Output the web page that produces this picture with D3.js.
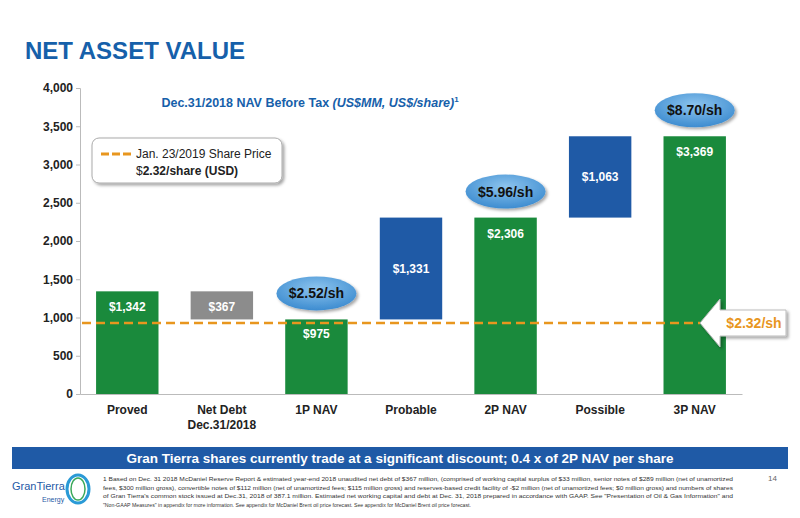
<!DOCTYPE html>
<html><head><meta charset="utf-8">
<script src="https://cdn.jsdelivr.net/npm/d3@7"></script>
<style>body{margin:0;background:#fff;font-family:Arial,"Liberation Sans",sans-serif}</style>
</head><body><div id="container"></div>
<script>
const categories = ['Proved', 'Net Debt|Dec.31/2018', '1P NAV', 'Probable', '2P NAV', 'Possible', '3P NAV'];
const barStart   = [0, 975, 0, 975, 0, 2306, 0];
const barEnd     = [1342, 1342, 975, 2306, 2306, 3369, 3369];
const barLabels  = ['$1,342', '$367', '$975', '$1,331', '$2,306', '$1,063', '$3,369'];
const barKind    = ['total', 'debt', 'total', 'add', 'total', 'add', 'total'];
const perShare   = [{cat: '1P NAV', text: '$2.52/sh'}, {cat: '2P NAV', text: '$5.96/sh'}, {cat: '3P NAV', text: '$8.70/sh'}];
const shareLine  = 928;
const yTicks     = [0, 500, 1000, 1500, 2000, 2500, 3000, 3500, 4000];

const color = { total: '#1a8a3c', add: '#1f5aa6', debt: '#8c8c8c', title: '#1660aa', orange: '#e8961e' };

const svg = d3.select('#container').append('svg').attr('width', 800).attr('height', 518);
const defs = svg.append('defs');
const g1 = defs.append('radialGradient').attr('id', 'bub').attr('cx', '50%').attr('cy', '35%').attr('r', '65%');
g1.append('stop').attr('offset', '0%').attr('stop-color', '#8cc4ee');
g1.append('stop').attr('offset', '100%').attr('stop-color', '#3d8cd0');
const sh = defs.append('filter').attr('id', 'sh').attr('x', '-20%').attr('y', '-20%').attr('width', '150%').attr('height', '160%');
sh.append('feDropShadow').attr('dx', 2).attr('dy', 2).attr('stdDeviation', 1.5).attr('flood-color', '#000').attr('flood-opacity', 0.35);

svg.append('text').attr('x', 25).attr('y', 59).attr('fill', color.title)
    .attr('font-size', 24).attr('font-weight', 'bold').text('NET ASSET VALUE');

const x = d3.scaleBand().domain(categories).range([80, 742]).paddingInner(0.34).paddingOuter(0.17);
const y = d3.scaleLinear().domain([0, 4000]).range([394, 88]);

// axes
const yAxis = svg.append('g').attr('transform', 'translate(80,0)')
    .call(d3.axisLeft(y).tickValues(yTicks).tickFormat(d3.format(',')).tickSize(4));
yAxis.selectAll('text').attr('font-size', 12).attr('font-weight', 'bold').attr('fill', '#222');
yAxis.selectAll('line,path').attr('stroke', '#bbb');

const xAxis = svg.append('g').attr('transform', 'translate(0,394)')
    .call(d3.axisBottom(x).tickSize(0).tickFormat(''));
xAxis.select('path').attr('stroke', '#bbb');
categories.forEach(c => {
    const t = svg.append('text').attr('x', x(c) + x.bandwidth() / 2).attr('y', 414)
        .attr('text-anchor', 'middle').attr('font-size', 12).attr('font-weight', 'bold').attr('fill', '#222');
    c.split('|').forEach((s, i) => t.append('tspan').attr('x', x(c) + x.bandwidth() / 2).attr('dy', i ? 15 : 0).text(s));
});

// bars
categories.forEach((c, i) => {
    const top = y(barEnd[i]), bot = y(barStart[i]);
    svg.append('rect').attr('x', x(c)).attr('width', x.bandwidth())
        .attr('y', top).attr('height', bot - top)
        .attr('fill', color[barKind[i]]);
    const ly = barKind[i] === 'add' ? (top + bot) / 2 + 4 : top + (i === 2 ? 19 : 20);
    svg.append('text').attr('x', x(c) + x.bandwidth() / 2).attr('y', ly)
        .attr('text-anchor', 'middle').attr('font-size', 12).attr('font-weight', 'bold').attr('fill', '#fff').text(barLabels[i]);
});

// share price line
svg.append('line').attr('x1', 82).attr('x2', 700).attr('y1', y(shareLine)).attr('y2', y(shareLine))
    .attr('stroke', color.orange).attr('stroke-width', 2.5).attr('stroke-dasharray', '9,5');
const cy = y(shareLine);
svg.append('path').attr('filter', 'url(#sh)')
    .attr('d', `M700,${cy} L720,${cy - 24} L720,${cy - 13} L786,${cy - 13} L786,${cy + 13} L720,${cy + 13} L720,${cy + 24} Z`)
    .attr('fill', '#fff').attr('stroke', '#bbb');
svg.append('text').attr('x', 754).attr('y', cy + 5).attr('text-anchor', 'middle').attr('font-size', 14)
    .attr('font-weight', 'bold').attr('fill', color.orange).text('$2.32/sh');

// per share bubbles
perShare.forEach(p => {
    const i = categories.indexOf(p.cat);
    const cx = x(p.cat) + x.bandwidth() / 2, by = y(barEnd[i]) - 26;
    svg.append('ellipse').attr('cx', cx).attr('cy', by).attr('rx', 40).attr('ry', 17)
        .attr('fill', 'url(#bub)').attr('filter', 'url(#sh)');
    svg.append('text').attr('x', cx).attr('y', by + 5).attr('text-anchor', 'middle').attr('font-size', 14)
        .attr('font-weight', 'bold').attr('fill', '#111').text(p.text);
});

// subtitle
const sub = svg.append('text').attr('x', 310).attr('y', 107).attr('text-anchor', 'middle')
    .attr('font-size', 12.5).attr('font-weight', 'bold').attr('fill', color.title);
sub.append('tspan').text('Dec.31/2018 NAV Before Tax ');
sub.append('tspan').attr('font-style', 'italic').text('(US$MM, US$/share)');
sub.append('tspan').attr('font-size', 8).attr('dy', -5).text('1');

// legend
svg.append('rect').attr('x', 92).attr('y', 138).attr('width', 190).attr('height', 45).attr('rx', 7)
    .attr('fill', '#fff').attr('stroke', '#aaa').attr('filter', 'url(#sh)');
svg.append('line').attr('x1', 101).attr('x2', 132).attr('y1', 154).attr('y2', 154)
    .attr('stroke', color.orange).attr('stroke-width', 3).attr('stroke-dasharray', '8,3');
svg.append('text').attr('x', 136).attr('y', 158).attr('font-size', 12).attr('fill', '#222').text('Jan. 23/2019 Share Price');
const lt = svg.append('text').attr('x', 136).attr('y', 175).attr('font-size', 12).attr('fill', '#222');
lt.append('tspan').text('$');
lt.append('tspan').attr('font-weight', 'bold').text('2.32/share (USD)');

// bottom band
svg.append('rect').attr('x', 12).attr('y', 447).attr('width', 776).attr('height', 22).attr('fill', '#1f5aa6');
svg.append('text').attr('x', 400).attr('y', 463).attr('text-anchor', 'middle').attr('font-size', 13.5)
    .attr('font-weight', 'bold').attr('fill', '#fff')
    .text('Gran Tierra shares currently trade at a significant discount; 0.4 x of 2P NAV  per share');

// logo
svg.append('text').attr('x', 12).attr('y', 490).attr('font-size', 11).attr('fill', '#1f5aa6').text('GranTierra');
svg.append('text').attr('x', 42).attr('y', 502).attr('font-size', 7).attr('fill', '#1f5aa6').text('Energy');
svg.append('ellipse').attr('cx', 78).attr('cy', 489).attr('rx', 11).attr('ry', 14).attr('fill', 'none')
    .attr('stroke', '#2a9ad6').attr('stroke-width', 3);
svg.append('ellipse').attr('cx', 78).attr('cy', 489).attr('rx', 7).attr('ry', 11).attr('fill', 'none')
    .attr('stroke', '#3aa85a').attr('stroke-width', 1.5);

const foot = [
    '1  Based on Dec. 31 2018 McDaniel Reserve Report & estimated year-end 2018 unaudited net debt of $367 million, (comprised of working capital surplus of $33 million, senior notes of $289 million (net of unamortized',
    'fees, $300 million gross), convertible notes of $112 million (net of unamortized fees; $115 million gross) and reserves-based credit facility of -$2 million (net of unamortized fees; $0 million gross) and numbers of shares',
    'of Gran Tierra\'s common stock issued at Dec.31, 2018 of 387.1 million. Estimated net working capital and debt at Dec. 31, 2018 prepared in accordance with GAAP. See "Presentation of Oil & Gas Information" and',
    '"Non-GAAP Measures" in appendix for more information. See appendix for McDaniel Brent oil price forecast. See appendix for McDaniel Brent oil price forecast.'
];
foot.forEach((s, i) => svg.append('text').attr('x', 103).attr('y', 481 + i * 8.5).attr('font-size', 5.3)
    .attr('fill', '#333').attr('textLength', i === 3 ? 368 : 630).attr('lengthAdjust', 'spacingAndGlyphs').text(s));
svg.append('text').attr('x', 768).attr('y', 481).attr('font-size', 8).attr('fill', '#666').text('14');
</script></body></html>
